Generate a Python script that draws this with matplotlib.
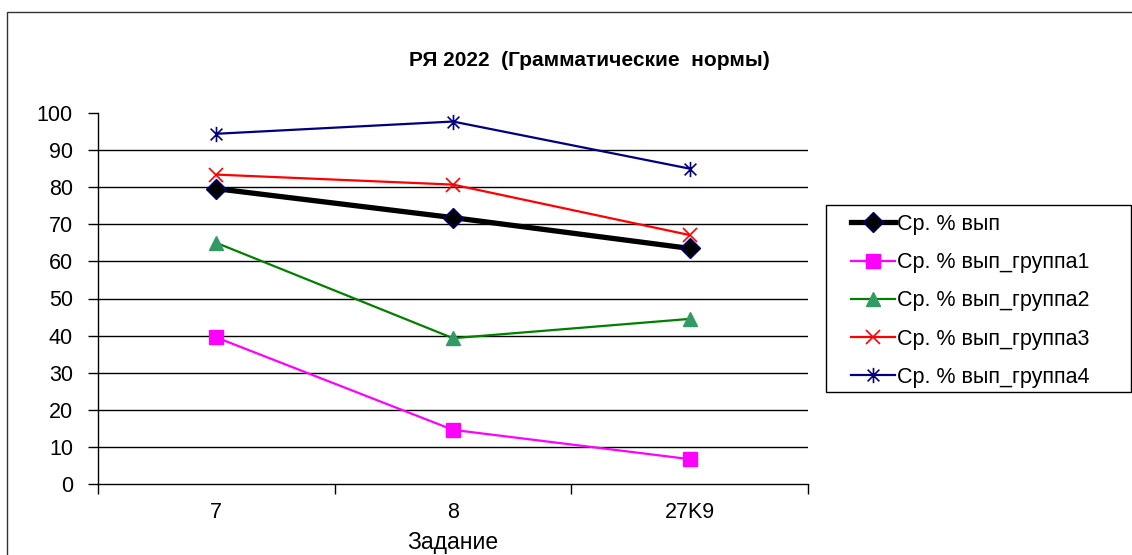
import matplotlib.pyplot as plt
from matplotlib.patches import Rectangle
from matplotlib.path import Path

plt.rcParams['font.family'] = ['Liberation Sans', 'DejaVu Sans']

# данные
tasks = ['7', '8', '27K9']
avg_all = [79.6, 71.8, 63.5]
group1 = [39.5, 14.6, 6.7]
group2 = [65.0, 39.3, 44.5]
group3 = [83.4, 80.7, 67.1]
group4 = [94.4, 97.7, 85.0]

# маркер-звёздочка как в Excel: крест + вертикальная линия
star = Path([(-1, -1), (1, 1), (-1, 1), (1, -1), (0, -1.3), (0, 1.3)],
            [Path.MOVETO, Path.LINETO, Path.MOVETO, Path.LINETO,
             Path.MOVETO, Path.LINETO])

fig = plt.figure(figsize=(11.32, 5.55), dpi=100)
ax = fig.add_axes([98 / 1132, 1 - 484 / 555, 710 / 1132, 371 / 555])

x = range(len(tasks))
ax.plot(x, avg_all, color='black', linewidth=3.8, marker='D', markersize=10,
        markerfacecolor='black', markeredgecolor='#000080', markeredgewidth=1,
        label='Ср. % вып', zorder=5)
ax.plot(x, group1, color='#ff00ff', linewidth=1.6, marker='s', markersize=10,
        markerfacecolor='#ff00ff', markeredgecolor='#ff00ff',
        label='Ср. % вып_группа1', zorder=4)
ax.plot(x, group2, color='#008000', linewidth=1.6, marker='^', markersize=10,
        markerfacecolor='#339966', markeredgecolor='#339966',
        label='Ср. % вып_группа2', zorder=4)
ax.plot(x, group3, color='#ff0000', linewidth=1.6, marker='x', markersize=10,
        markeredgewidth=1.2, label='Ср. % вып_группа3', zorder=4)
ax.plot(x, group4, color='#000080', linewidth=1.6, marker=star, markersize=11,
        markeredgewidth=1.2, markerfacecolor='none',
        label='Ср. % вып_группа4', zorder=4)

ax.set_xlim(-0.5, 2.5)
ax.set_ylim(0, 100)
ax.set_yticks(range(0, 101, 10))
for v in range(10, 100, 10):
    ax.axhline(v, color='black', linewidth=1, zorder=1)

ax.set_xticks(list(x))
ax.set_xticklabels(tasks)
ax.set_xticks([-0.5, 0.5, 1.5, 2.5], minor=True)
ax.tick_params(axis='x', which='major', length=0, pad=13, labelsize=15.5)
ax.tick_params(axis='x', which='minor', length=7, width=1, direction='out')
ax.tick_params(axis='y', length=7, width=1, direction='out', pad=11, labelsize=15.5)

ax.spines['top'].set_visible(False)
ax.spines['right'].set_visible(False)
ax.spines['left'].set_linewidth(1)
ax.spines['bottom'].set_linewidth(1)

ax.set_xlabel('Задание', fontsize=16.5, labelpad=6)

fig.text(589 / 1132, 1 - 60 / 555, 'РЯ 2022  (Грамматические  нормы)',
         ha='center', va='center', fontsize=15, fontweight='bold')

# легенда без рамки + рамка отдельно
leg = fig.legend(loc='upper left', bbox_to_anchor=(851 / 1132, 1 - 214 / 555),
                 fontsize=15.5, frameon=False, handlelength=2.05,
                 handletextpad=0.1, labelspacing=0.8, borderpad=0,
                 borderaxespad=0)
fig.patches.append(Rectangle((826 / 1132, 1 - 392 / 555), 305 / 1132, 187 / 555,
                             transform=fig.transFigure, fill=False,
                             edgecolor='black', linewidth=1))

fig.patches.append(Rectangle((7 / 1132, -0.05), 1.1, 1 - 12 / 555 + 0.05,
                             transform=fig.transFigure, fill=False,
                             edgecolor='#333333', linewidth=1))

fig.savefig('out.png', dpi=100)
